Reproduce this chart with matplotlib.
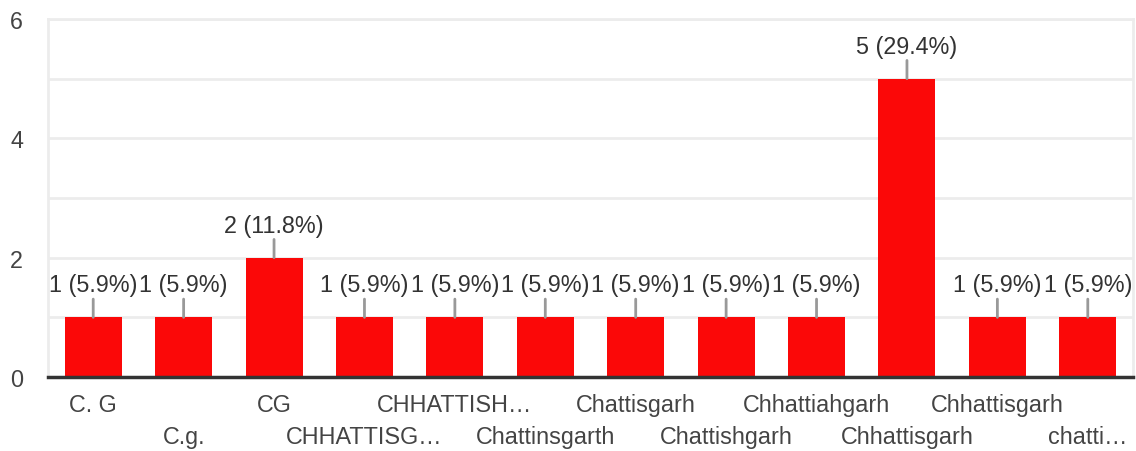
import matplotlib
matplotlib.use("Agg")
import matplotlib.pyplot as plt

categories = ["C. G", "C.g.", "CG", "CHHATTISG…", "CHHATTISH…", "Chattinsgarth",
              "Chattisgarh", "Chattishgarh", "Chhattiahgarh", "Chhattisgarh",
              "Chhattisgarh", "chatti…"]
values = [1, 1, 2, 1, 1, 1, 1, 1, 1, 5, 1, 1]
percents = ["5.9%", "5.9%", "11.8%", "5.9%", "5.9%", "5.9%", "5.9%", "5.9%",
            "5.9%", "29.4%", "5.9%", "5.9%"]
yticks = [0, 2, 4, 6]

plt.rcParams['font.family'] = ['Liberation Sans', 'DejaVu Sans']
FS = 16.8

W, H = 1136, 452
fig = plt.figure(figsize=(W / 100, H / 100), dpi=100)
ax = fig.add_axes([48 / W, 1 - 378 / H, (1133 - 48) / W, (378 - 20) / H])

x = list(range(len(categories)))
ax.bar(x, values, width=0.63, color='#fb0808', zorder=3)
ax.set_xlim(-0.5, len(categories) - 0.5)
ax.set_ylim(0, 6)

for i in range(7):
    ax.axhline(i, color='#ececec', lw=2, zorder=1)

ax.set_yticks(yticks)
ax.set_yticklabels([str(t) for t in yticks], fontsize=FS, color='#444444')
ax.tick_params(axis='y', length=0, pad=18)
ax.set_xticks([])

for s in ['left', 'top', 'right']:
    ax.spines[s].set_color('#ececec')
    ax.spines[s].set_linewidth(2)
ax.spines['bottom'].set_color('#333333')
ax.spines['bottom'].set_linewidth(2.5)
ax.spines['bottom'].set_zorder(4)

for xi, v, p in zip(x, values, percents):
    ax.annotate(f"{v} ({p})", xy=(xi, v), xytext=(0, 21), textcoords='offset pixels',
                ha='center', va='bottom', fontsize=FS, color='#333333',
                arrowprops=dict(arrowstyle='-', color='#999999', lw=2,
                                shrinkA=0, shrinkB=0), zorder=5)

trans = ax.get_xaxis_transform()
for xi, c in zip(x, categories):
    yoff = 28 if xi % 2 == 0 else 60
    ax.text(xi, -yoff / 358, c, transform=trans, ha='center', va='center',
            fontsize=FS, color='#444444')

fig.savefig("out.png", dpi=100)
